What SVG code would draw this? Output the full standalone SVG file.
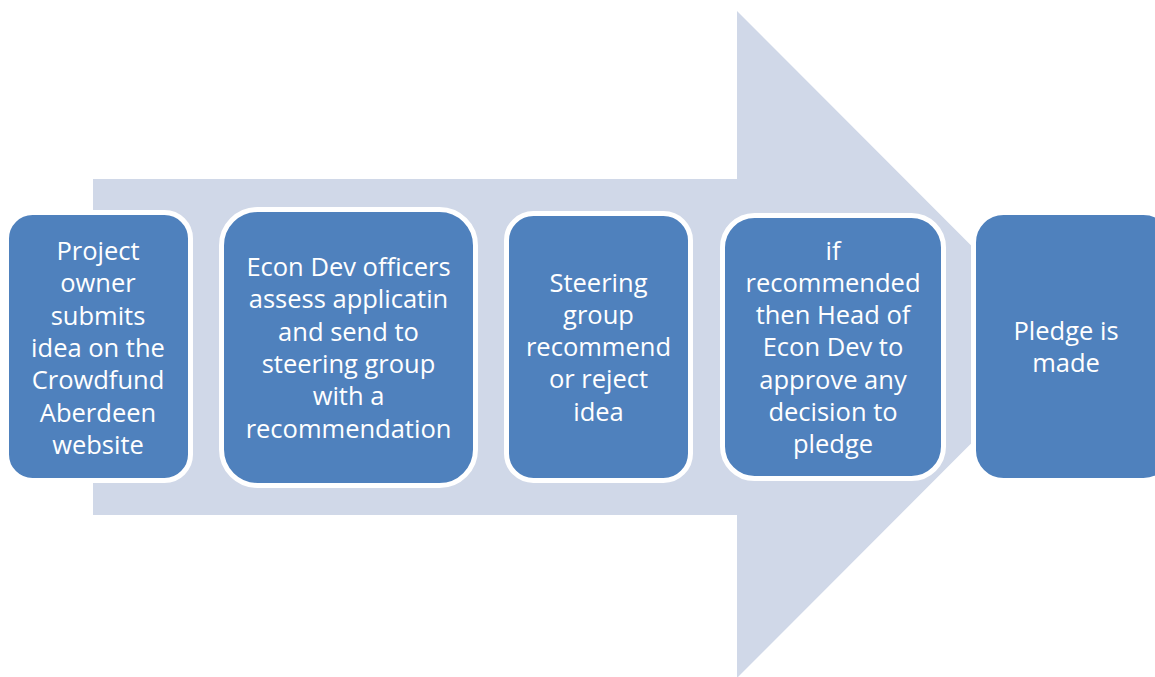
<svg xmlns="http://www.w3.org/2000/svg" width="1155" height="677" viewBox="0 0 1155 677">
<style>
.box{fill:#4f81bd;stroke:#ffffff;stroke-width:5}
.t{font-family:"Open Sans","Liberation Sans",sans-serif;font-size:25.5px;fill:#ffffff;text-anchor:middle}
</style>
<rect width="1155" height="677" fill="#ffffff"/>
<g id="arrow">
<polygon points="93,179 737,179 737,11 1070,344.5 737,678 737,515 93,515" fill="#d0d8e8"/>
</g>
<g id="connectors"></g>
<g id="node1">
<rect class="box" x="6.5" y="212.5" width="184" height="268" rx="26"/>
<text class="t"><tspan x="98" y="260">Project</tspan><tspan x="98" y="292.3">owner</tspan><tspan x="98" y="324.6">submits</tspan><tspan x="98" y="356.9">idea on the</tspan><tspan x="98" y="389.2">Crowdfund</tspan><tspan x="98" y="421.5">Aberdeen</tspan><tspan x="98" y="453.8">website</tspan></text>
</g>
<g id="node2">
<rect class="box" x="221.5" y="209.5" width="254" height="276" rx="36"/>
<text class="t"><tspan x="348.5" y="276">Econ Dev officers</tspan><tspan x="348.5" y="308.3">assess applicatin</tspan><tspan x="348.5" y="340.6">and send to</tspan><tspan x="348.5" y="372.9">steering group</tspan><tspan x="348.5" y="405.2">with a</tspan><tspan x="348.5" y="437.5">recommendation</tspan></text>
</g>
<g id="node3">
<rect class="box" x="506.5" y="213.5" width="184" height="267" rx="27"/>
<text class="t"><tspan x="598.5" y="291.5">Steering</tspan><tspan x="598.5" y="323.8">group</tspan><tspan x="598.5" y="356.1">recommend</tspan><tspan x="598.5" y="388.4">or reject</tspan><tspan x="598.5" y="420.7">idea</tspan></text>
</g>
<g id="node4">
<rect class="box" x="722.5" y="215.5" width="221" height="263" rx="32"/>
<text class="t"><tspan x="833" y="259.5">if</tspan><tspan x="833" y="291.8">recommended</tspan><tspan x="833" y="324.1">then Head of</tspan><tspan x="833" y="356.4">Econ Dev to</tspan><tspan x="833" y="388.7">approve any</tspan><tspan x="833" y="421">decision to</tspan><tspan x="833" y="453.3">pledge</tspan></text>
</g>
<g id="node5">
<rect class="box" x="973.5" y="212.5" width="200" height="268" rx="30"/>
<text class="t"><tspan x="1066" y="340">Pledge is</tspan><tspan x="1066" y="372.3">made</tspan></text>
</g>
</svg>
